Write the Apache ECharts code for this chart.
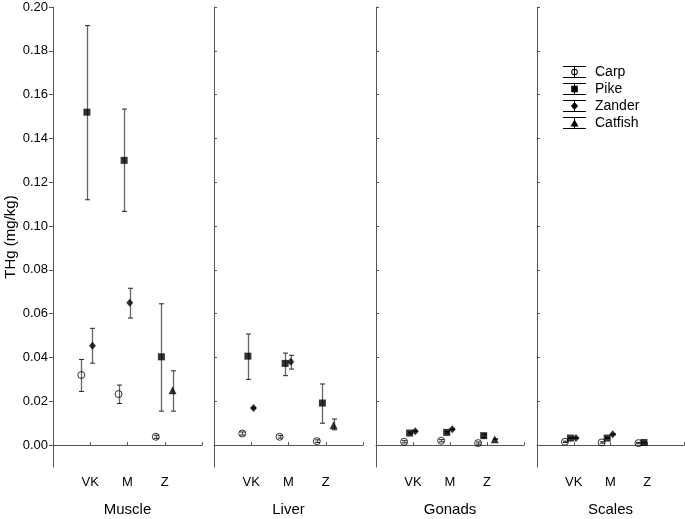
<!DOCTYPE html>
<html>
<head>
<meta charset="utf-8">
<script src="https://cdn.jsdelivr.net/npm/echarts@6/dist/echarts.min.js"></script>
<style>
html,body{margin:0;padding:0;background:#fff;}
#chart{width:685px;height:519px;}
</style>
</head>
<body>
<div id="chart"></div>
<script>
// ---- data ----
const tissues = ['Muscle', 'Liver', 'Gonads', 'Scales'];
const sites = ['VK', 'M', 'Z'];
const speciesNames = ['Carp', 'Pike', 'Zander', 'Catfish'];
const yTickValues = [0, 0.02, 0.04, 0.06, 0.08, 0.10, 0.12, 0.14, 0.16, 0.18, 0.20];

// rows = tissues, columns = sites (VK, M, Z); null = not present
const carpMean = [[0.0320, 0.0233, 0.0038], [0.0053, 0.0038, 0.0018], [0.0015, 0.0020, 0.0009], [0.0015, 0.0012, 0.0009]];
const carpLow  = [[0.0245, 0.0190, 0.0031], [0.0046, 0.0032, 0.0012], [0.0010, 0.0015, 0.0004], [0.0012, 0.0009, 0.0006]];
const carpHigh = [[0.0391, 0.0274, 0.0045], [0.0060, 0.0044, 0.0024], [0.0020, 0.0025, 0.0014], [0.0018, 0.0015, 0.0012]];

const pikeMean = [[0.1520, 0.1300, 0.0403], [0.0406, 0.0373, 0.0192], [0.0055, 0.0058, 0.0043], [0.0032, 0.0032, 0.0012]];
const pikeLow  = [[0.1120, 0.1067, 0.0155], [0.0300, 0.0317, 0.0100], [0.0051, 0.0054, 0.0035], [0.0030, 0.0030, 0.0010]];
const pikeHigh = [[0.1915, 0.1534, 0.0645], [0.0507, 0.0420, 0.0279], [0.0059, 0.0062, 0.0050], [0.0034, 0.0034, 0.0014]];

const zanderMean = [[0.0453, 0.0650, null], [0.0169, 0.0380, null], [0.0063, 0.0072, null], [0.0032, 0.0049, null]];
const zanderLow  = [[0.0374, 0.0580, null], [0.0166, 0.0347, null], [0.0061, 0.0070, null], [0.0030, 0.0047, null]];
const zanderHigh = [[0.0533, 0.0716, null], [0.0172, 0.0410, null], [0.0065, 0.0074, null], [0.0034, 0.0051, null]];

const catfishMean = [[null, null, 0.0250], [null, null, 0.0091], [null, null, 0.0027], [null, null, null]];
const catfishLow  = [[null, null, 0.0155], [null, null, 0.0070], [null, null, 0.0025], [null, null, null]];
const catfishHigh = [[null, null, 0.0339], [null, null, 0.0119], [null, null, 0.0029], [null, null, null]];

// ---- layout / style ----
const FONT = 'Liberation Sans, Arial, sans-serif';
const gridLefts = [53, 214, 376, 537];
const gridWidths = [149, 149, 148, 147];
const offsets = [-0.24, -0.09, 0.06, 0.21];
const axisColor = '#555';

const speciesData = [
  [carpMean, carpLow, carpHigh],
  [pikeMean, pikeLow, pikeHigh],
  [zanderMean, zanderLow, zanderHigh],
  [catfishMean, catfishLow, catfishHigh]
];

const markerStyles = [
  { symbol: 'circle', symbolSize: 7, itemStyle: { color: 'rgba(0,0,0,0)', borderColor: '#000', borderWidth: 1 } },
  { symbol: 'rect', symbolSize: 7, itemStyle: { color: '#000' } },
  { symbol: 'diamond', symbolSize: [7, 8], itemStyle: { color: '#000' } },
  { symbol: 'triangle', symbolSize: 8, itemStyle: { color: '#000' } }
];

const grids = [], xAxes = [], yAxes = [], series = [];

tissues.forEach((tissue, t) => {
  grids.push({ left: gridLefts[t], width: gridWidths[t], top: 7, bottom: 52, containLabel: false, outerBoundsMode: 'none' });
  xAxes.push({
    type: 'value', gridIndex: t, min: 0, max: 4,
    name: tissue, nameLocation: 'middle', nameGap: 35,
    nameTextStyle: { fontFamily: FONT, fontSize: 15, color: '#000' },
    axisLine: { show: true, lineStyle: { color: axisColor, width: 1 } },
    axisTick: { show: true, inside: true, length: 3, customValues: [1, 2, 3, 4], lineStyle: { color: axisColor } },
    axisLabel: {
      show: true, customValues: [1, 2, 3], margin: 9,
      fontFamily: FONT, fontSize: 13, color: '#000',
      formatter: v => sites[Math.round(v) - 1] || ''
    },
    splitLine: { show: false }
  });
  yAxes.push({
    type: 'value', gridIndex: t, min: -0.01, max: 0.20,
    name: t === 0 ? 'THg (mg/kg)' : '', nameLocation: 'middle', nameGap: 35, nameRotate: 90,
    nameTextStyle: { fontFamily: FONT, fontSize: 15, color: '#000' },
    axisLine: { show: true, lineStyle: { color: axisColor, width: 1 } },
    axisTick: { show: true, inside: t !== 0, length: t === 0 ? 4 : 3, customValues: yTickValues, lineStyle: { color: axisColor } },
    axisLabel: {
      show: t === 0, customValues: yTickValues, margin: 5,
      fontFamily: FONT, fontSize: 13, color: '#000',
      formatter: v => v.toFixed(2)
    },
    splitLine: { show: false }
  });

  speciesNames.forEach((sp, s) => {
    const [mean, low, high] = speciesData[s];
    const pts = [], bars = [];
    sites.forEach((site, k) => {
      const m = mean[t][k];
      if (m === null || m === undefined) return;
      const x = k + 1 + offsets[s];
      pts.push([x, m]);
      bars.push([x, m, low[t][k], high[t][k]]);
    });
    series.push({
      name: sp, type: 'custom', xAxisIndex: t, yAxisIndex: t, z: 2,
      data: bars, silent: true, animation: false,
      encode: { x: 0, y: [1, 2, 3] },
      itemStyle: { color: '#000' },
      renderItem: (params, api) => {
        const x = api.value(0);
        const top = api.coord([x, api.value(3)]);
        const bot = api.coord([x, api.value(2)]);
        const cx = Math.round(top[0]) + 0.5;
        const cap = 2.5;
        return {
          type: 'group',
          children: [
            { type: 'line', shape: { x1: cx, y1: top[1], x2: cx, y2: bot[1] }, style: { stroke: '#666', lineWidth: 1.3 } },
            { type: 'line', shape: { x1: cx - cap, y1: top[1], x2: cx + cap, y2: top[1] }, style: { stroke: '#222', lineWidth: 1 } },
            { type: 'line', shape: { x1: cx - cap, y1: bot[1], x2: cx + cap, y2: bot[1] }, style: { stroke: '#222', lineWidth: 1 } }
          ]
        };
      }
    });
    series.push(Object.assign({
      name: sp, type: 'scatter', xAxisIndex: t, yAxisIndex: t, z: 3,
      data: pts, silent: true, animation: false
    }, markerStyles[s]));
  });
});

// legend icons: error-bar style with marker (230 x 120 units)
const frame = 'M0 0H230V10H0Z M0 110H230V120H0Z M110 0H120V120H110Z ';
const legendIcons = [
  'path://' + frame + 'M82 60A33 33 0 1 1 148 60A33 33 0 1 1 82 60Z M92 60A23 23 0 1 0 138 60A23 23 0 1 0 92 60Z',
  'path://' + frame + 'M82 27H148V93H82Z',
  'path://' + frame + 'M115 20L150 60L115 100L80 60Z',
  'path://' + frame + 'M115 22L155 95L75 95Z'
];

const option = {
  backgroundColor: '#fff',
  animation: false,
  grid: grids,
  xAxis: xAxes,
  yAxis: yAxes,
  legend: {
    orient: 'vertical', left: 563, top: 65, padding: 0,
    itemWidth: 23, itemHeight: 12, itemGap: 3,
    selectedMode: false,
    textStyle: { fontFamily: FONT, fontSize: 14, color: '#000', padding: [0, 0, 0, 4] },
    data: speciesNames.map((n, i) => ({ name: n, icon: legendIcons[i], itemStyle: { color: '#000', borderWidth: 0 } }))
  },
  series: series
};

const chart = echarts.init(document.getElementById('chart'), null, { renderer: 'canvas' });
chart.setOption(option);
</script>
</body>
</html>
